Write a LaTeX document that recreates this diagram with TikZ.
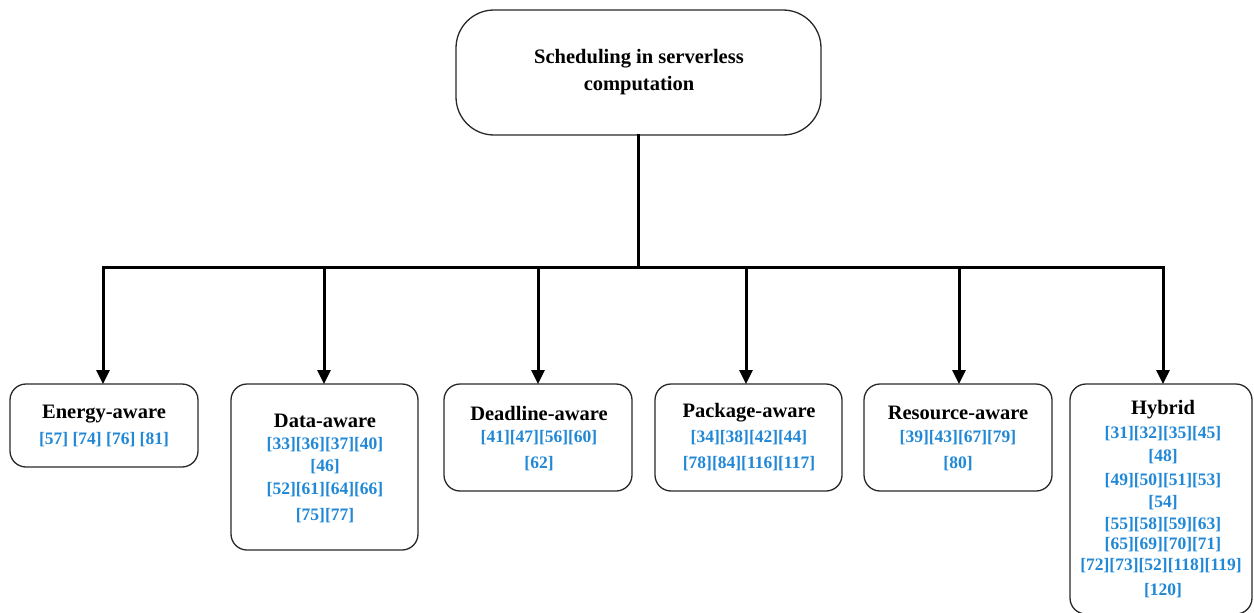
\documentclass[tikz,border=0pt]{standalone}
\usepackage{fontspec}
\setmainfont{Liberation Serif}
\usetikzlibrary{arrows.meta}
\definecolor{refblue}{RGB}{32,136,214}
\definecolor{boxline}{RGB}{40,40,40}
\tikzset{
  catbox/.style={draw=boxline, line width=1.3pt, rounded corners=16pt, fill=white},
  rootbox/.style={draw=boxline, line width=1.3pt, rounded corners=38pt, fill=white},
  cattitle/.style={font=\bfseries\fontsize{20.5}{22}\selectfont, inner sep=0pt},
  roottitle/.style={font=\bfseries\fontsize{20.5}{22}\selectfont, inner sep=0pt},
  cite/.style={font=\bfseries\fontsize{17.5}{20}\selectfont, text=refblue, inner sep=0pt},
  trunk/.style={line width=3pt, line cap=rect},
  branch/.style={line width=3pt, -{Triangle[length=14pt,width=13pt]}}
}
\begin{document}
\begin{tikzpicture}[x=1pt,y=-1pt]
\useasboundingbox (0,0) rectangle (1254,613);

% root
\draw[rootbox] (456,10) rectangle (821,135);
\node[roottitle] (rootA) at (639,59) {Scheduling in serverless};
\node[roottitle] (rootB) at (639,86) {computation};
\coordinate (stemtop) at (638,135);
\coordinate (stembot) at (638,267);

% category boxes
\draw[catbox] (10,384) rectangle (198,467);
\draw[catbox] (231,384) rectangle (418,550);
\draw[catbox] (444,384) rectangle (632,491);
\draw[catbox] (655,384) rectangle (842,491);
\draw[catbox] (864,384) rectangle (1052,491);
\draw[catbox] (1070,384) rectangle (1252,614);

% box tops used as arrow targets
\coordinate (eT) at (103,384);
\coordinate (dT) at (324,384);
\coordinate (lT) at (538,384);
\coordinate (pT) at (746,384);
\coordinate (rT) at (959,384);
\coordinate (hT) at (1163,384);

% connectors
\draw[trunk] (stemtop) -- (stembot);
\coordinate (barL) at (103,267);
\coordinate (barR) at (1163,267);
\draw[trunk] (barL) -- (barR);
\foreach \t in {eT,dT,lT,pT,rT,hT}{
  \draw[branch] (\t |- barL) -- (\t);
}

% Energy-aware
\node[cattitle] (eN) at (104,414) {Energy-aware};
\node[cite] (e1) at (104,440) {[57] [74] [76] [81]};

% Data-aware
\node[cattitle] (dN) at (325,421) {Data-aware};
\node[cite] (d1) at (325,445) {[33][36][37][40]};
\node[cite] (d2) at (325,467) {[46]};
\node[cite] (d3) at (325,490) {[52][61][64][66]};
\node[cite] (d4) at (325,516) {[75][77]};

% Deadline-aware
\node[cattitle] (lN) at (539,413) {Deadline-aware};
\node[cite] (l1) at (539,438) {[41][47][56][60]};
\node[cite] (l2) at (539,464) {[62]};

% Package-aware
\node[cattitle] (pN) at (749,413) {Package-aware};
\node[cite] (p1) at (749,438) {[34][38][42][44]};
\node[cite] (p2) at (749,464) {[78][84][116][117]};

% Resource-aware
\node[cattitle] (rN) at (958,413) {Resource-aware};
\node[cite] (r1) at (958,438) {[39][43][67][79]};
\node[cite] (r2) at (958,464) {[80]};

% Hybrid
\node[cattitle] (hN) at (1163,410) {Hybrid};
\node[cite] (h1) at (1163,434) {[31][32][35][45]};
\node[cite] (h2) at (1163,457) {[48]};
\node[cite] (h3) at (1163,481) {[49][50][51][53]};
\node[cite] (h4) at (1163,503) {[54]};
\node[cite] (h5) at (1163,525) {[55][58][59][63]};
\node[cite] (h6) at (1163,545) {[65][69][70][71]};
\node[cite] (h7) at (1161,566) {[72][73][52][118][119]};
\node[cite] (h8) at (1163,591) {[120]};
\end{tikzpicture}
\end{document}
